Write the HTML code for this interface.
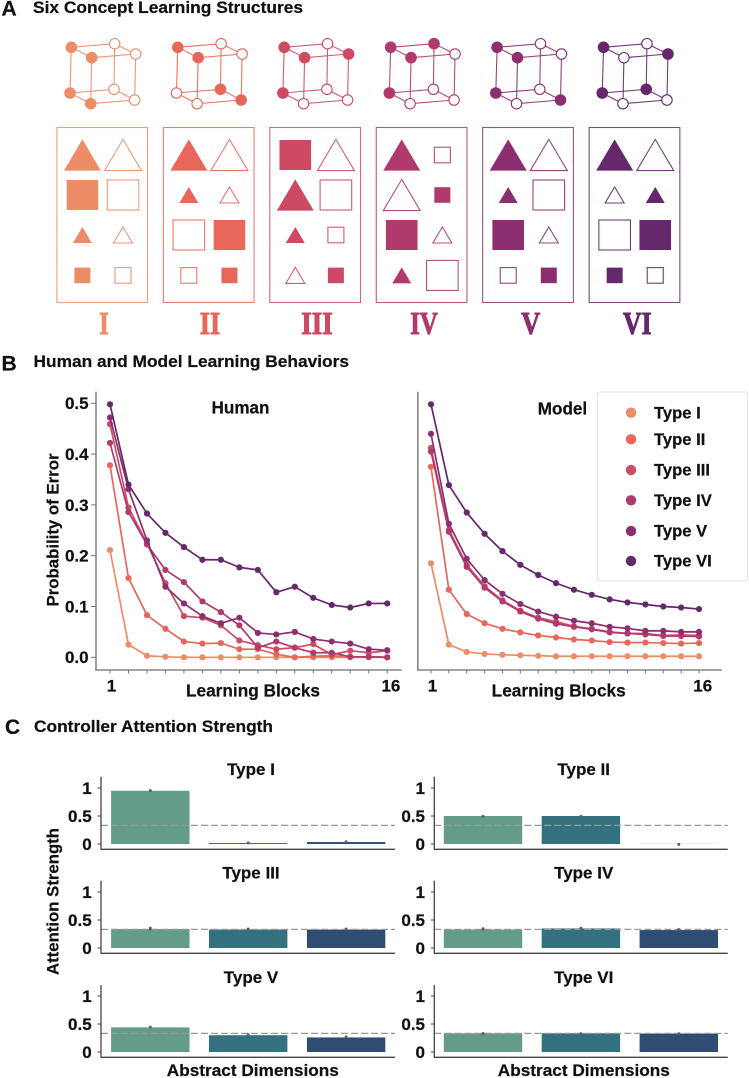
<!DOCTYPE html>
<html lang="en">
<head>
<meta charset="utf-8">
<title>Six Concept Learning Structures</title>
<style>
html,body{margin:0;padding:0;background:#fff;width:749px;height:1078px;overflow:hidden}
svg{display:block}
text{font-family:"Liberation Sans",sans-serif;font-weight:700;fill:#111;stroke:#111;stroke-width:.22}
</style>
</head>
<body>
<svg id="fig" xmlns="http://www.w3.org/2000/svg" width="749" height="1078" viewBox="0 0 749 1078">
  <text x="1.5" y="15.5" font-size="21">A</text>
  <text x="33" y="13" font-size="16.4" textLength="270" lengthAdjust="spacingAndGlyphs">Six Concept Learning Structures</text>
  <text x="1.5" y="370.5" font-size="21">B</text>
  <text x="33.5" y="367" font-size="16.4" textLength="315.5" lengthAdjust="spacingAndGlyphs">Human and Model Learning Behaviors</text>
  <text x="5" y="734" font-size="21">C</text>
  <text x="34" y="732" font-size="16.4" textLength="239" lengthAdjust="spacingAndGlyphs">Controller Attention Strength</text>

  <g id="panelA"></g>

  <g id="human"></g>
  <text x="240.5" y="413.3" font-size="17.1" text-anchor="middle">Human</text>
  <text x="253" y="696.7" font-size="17.2" text-anchor="middle" textLength="134" lengthAdjust="spacingAndGlyphs">Learning Blocks</text>
  <text transform="translate(58.3,530) rotate(-90)" font-size="17" text-anchor="middle" textLength="153" lengthAdjust="spacingAndGlyphs">Probability of Error</text>

  <g id="model"></g>
  <text x="562.5" y="414.3" font-size="17.1" text-anchor="middle">Model</text>
  <text x="558.7" y="696.7" font-size="17.2" text-anchor="middle" textLength="134" lengthAdjust="spacingAndGlyphs">Learning Blocks</text>

  <g id="legend"></g>

  <g id="bars"></g>
  <text transform="translate(58.3,901.5) rotate(-90)" font-size="17" text-anchor="middle" textLength="147" lengthAdjust="spacingAndGlyphs">Attention Strength</text>
  <text x="252.8" y="1076" font-size="17" text-anchor="middle" textLength="172" lengthAdjust="spacingAndGlyphs">Abstract Dimensions</text>
  <text x="583.8" y="1076" font-size="17" text-anchor="middle" textLength="172" lengthAdjust="spacingAndGlyphs">Abstract Dimensions</text>
</svg>

<script>
// ---------- chart data ----------
const typeNames = ['Type I', 'Type II', 'Type III', 'Type IV', 'Type V', 'Type VI'];
const errorTicks = [0, 0.1, 0.2, 0.3, 0.4, 0.5];
const blocks = [1, 2, 3, 4, 5, 6, 7, 8, 9, 10, 11, 12, 13, 14, 15, 16];
const blockLabels = ['1', '16'];

const humanTypeI = [0.211, 0.025, 0.003, 0.001, 0, 0, 0, 0, 0, 0, 0, 0, 0, 0, 0, 0];
const humanTypeII = [0.378, 0.156, 0.083, 0.056, 0.031, 0.027, 0.028, 0.016, 0.016, 0.006, 0, 0.002, 0.003, 0.001, 0.001, 0];
const humanTypeIII = [0.459, 0.295, 0.224, 0.146, 0.081, 0.078, 0.063, 0.033, 0.024, 0.016, 0.019, 0.026, 0.005, 0.013, 0.009, 0.013];
const humanTypeIV = [0.422, 0.286, 0.222, 0.172, 0.148, 0.11, 0.089, 0.063, 0.019, 0.031, 0.019, 0.009, 0.009, 0.001, 0.001, 0];
const humanTypeV = [0.472, 0.331, 0.23, 0.139, 0.106, 0.081, 0.067, 0.078, 0.048, 0.045, 0.05, 0.036, 0.031, 0.027, 0.016, 0.014];
const humanTypeVI = [0.498, 0.34, 0.283, 0.245, 0.217, 0.192, 0.192, 0.177, 0.172, 0.128, 0.139, 0.117, 0.103, 0.098, 0.106, 0.106];

const modelTypeI = [0.185, 0.025, 0.0105, 0.0066, 0.005, 0.004, 0.003, 0.002, 0.002, 0.002, 0.002, 0.002, 0.002, 0.002, 0.002, 0.002];
const modelTypeII = [0.375, 0.133, 0.085, 0.067, 0.056, 0.049, 0.043, 0.039, 0.035, 0.033, 0.03, 0.029, 0.029, 0.028, 0.027, 0.028];
const modelTypeIII = [0.412, 0.251, 0.182, 0.14, 0.112, 0.092, 0.078, 0.07, 0.061, 0.056, 0.05, 0.047, 0.047, 0.043, 0.044, 0.043];
const modelTypeIV = [0.405, 0.247, 0.178, 0.137, 0.11, 0.09, 0.076, 0.066, 0.06, 0.055, 0.049, 0.047, 0.045, 0.042, 0.042, 0.041];
const modelTypeV = [0.44, 0.263, 0.194, 0.152, 0.125, 0.105, 0.09, 0.08, 0.072, 0.067, 0.06, 0.057, 0.052, 0.052, 0.05, 0.05];
const modelTypeVI = [0.498, 0.339, 0.285, 0.243, 0.209, 0.182, 0.162, 0.146, 0.133, 0.123, 0.114, 0.108, 0.104, 0.1, 0.098, 0.095];

const attentionTicks = [0, 0.5, 1];
const attentionTickLabels = ['0', '0.5', '1'];
const chanceLevel = 0.333;
const attentionTypeI = [0.95, 0.015, 0.035];
const attentionTypeII = [0.5, 0.5, 0];
const attentionTypeIII = [0.34, 0.33, 0.33];
const attentionTypeIV = [0.33, 0.35, 0.32];
const attentionTypeV = [0.44, 0.3, 0.26];
const attentionTypeVI = [0.335, 0.335, 0.33];
const attentionErrorsI = [0.02, 0.02, 0.02];
const attentionErrorsII = [0.01, 0.01, 0.01];
const attentionErrorsIII = [0.03, 0.025, 0.025];
const attentionErrorsIV = [0.03, 0.02, 0.025];
const attentionErrorsV = [0.02, 0.025, 0.025];
const attentionErrorsVI = [0.01, 0.008, 0.012];

// ---------- concept diagram patterns ----------
const romanNumerals = ['I', 'II', 'III', 'IV', 'V', 'VI'];
const cubePatterns = ['11001100', '11000011', '11011000', '11101000', '11001001', '10011010'];
const stimulusPatterns = [
  ['LTf', 'LTo', 'LSf', 'LSo', 'STf', 'STo', 'SSf', 'SSo'],
  ['LTf', 'LTo', 'STf', 'STo', 'LSo', 'LSf', 'SSo', 'SSf'],
  ['LSf', 'LTo', 'LTf', 'LSo', 'STf', 'SSo', 'STo', 'SSf'],
  ['LTf', 'SSo', 'LTo', 'SSf', 'LSf', 'STo', 'STf', 'LSo'],
  ['LTf', 'LTo', 'STf', 'LSo', 'LSf', 'STo', 'SSo', 'SSf'],
  ['LTf', 'LTo', 'STo', 'STf', 'LSo', 'LSf', 'SSf', 'SSo']
];

// ---------- styling ----------
const typeColors = ['#EC8D68', '#E8675A', '#CE4A63', '#B13A6C', '#8B2F70', '#64286B'];
const barColors = ['#639C87', '#337080', '#2F4D73'];
const SVGNS = 'http://www.w3.org/2000/svg';

function mk(parent, tag, attrs) {
  const n = document.createElementNS(SVGNS, tag);
  for (const k in attrs) n.setAttribute(k, attrs[k]);
  parent.appendChild(n);
  return n;
}

// ---------- panel A ----------
(function () {
  const root = document.getElementById('panelA');
  const cubeNodes = [[71.3, 47.3], [91.7, 57.7], [114.7, 43.7], [135.7, 54], [70, 93], [90.7, 103.7], [114, 89.3], [134.7, 100]];
  const cubeEdges = [[0, 2], [0, 1], [1, 3], [2, 3], [0, 4], [1, 5], [2, 6], [3, 7], [4, 5], [4, 6], [5, 7], [6, 7]];
  const step = 106.45;
  const rowCenters = [155, 195, 235, 275.4];
  const colCenters = [82.4, 123];

  romanNumerals.forEach(function (label, t) {
    const dx = t * step;
    const color = typeColors[t];
    const group = mk(root, 'g', {});
    
    

    const cube = mk(group, 'g', { transform: 'translate(' + dx + ',0)' });
    
    
    cubeEdges.forEach(function (e) {
      const line = mk(cube, 'line', { x1: cubeNodes[e[0]][0], y1: cubeNodes[e[0]][1], x2: cubeNodes[e[1]][0], y2: cubeNodes[e[1]][1], stroke: color, 'stroke-width': 1.1, 'stroke-opacity': 0.9 });
      
      
    });
    cubeNodes.forEach(function (p, i) {
      const filled = cubePatterns[t][i] === '1';
      const node = mk(cube, 'circle', { cx: p[0], cy: p[1], r: filled ? 5.8 : 5.2, fill: filled ? color : '#fff', stroke: color, 'stroke-width': filled ? 0 : 1.1 });
      
      
    });

    const box = mk(group, 'rect', { x: 56.9 + dx, y: 127.5, width: 90.7, height: 175, fill: '#fff', stroke: color, 'stroke-width': 1.1, 'stroke-opacity': 0.85 });
    
    

    stimulusPatterns[t].forEach(function (code, i) {
      const cx = colCenters[i % 2] + dx;
      const cy = rowCenters[Math.floor(i / 2)];
      const large = code[0] === 'L';
      const filled = code[2] === 'f';
      const attrs = { fill: filled ? color : '#fff', stroke: color, 'stroke-width': filled ? 0 : 1.1, 'stroke-opacity': 0.9 };
      let shape;
      if (code[1] === 'T') {
        const hw = large ? 18.5 : 9.5;
        const hh = large ? 15.6 : 8;
        attrs.points = cx + ',' + (cy - hh) + ' ' + (cx + hw) + ',' + (cy + hh) + ' ' + (cx - hw) + ',' + (cy + hh);
        shape = mk(group, 'polygon', attrs);
        
      } else {
        const hw = large ? 15.8 : 8;
        const hh = large ? 15 : 7.8;
        attrs.x = cx - hw; attrs.y = cy - hh; attrs.width = 2 * hw; attrs.height = 2 * hh;
        shape = mk(group, 'rect', attrs);
        
      }
      
    });

    const widths = [9.5, 20.5, 31.5, 27.5, 19, 28.5];
    const centers = [104, 210, 317, 424, 530.7, 637.3];
    const num = mk(group, 'text', { x: centers[t], y: 334, 'text-anchor': 'middle', 'font-size': 32, textLength: widths[t], lengthAdjust: 'spacingAndGlyphs', style: 'font-family:"Liberation Serif",serif;font-weight:700;fill:' + color + ';stroke:' + color + ';stroke-width:1' });
    num.textContent = label;
    
    
  });
})();

// ---------- panel B ----------
function drawLines(rootId, prefix, seriesList, geom) {
  const root = document.getElementById(rootId);
  const xScale = function (b) { return geom.x1 + (b - 1) * (geom.x16 - geom.x1) / 15; };
  const yScale = function (v) { return 657.3 - v * 508; };

  const yAxis = mk(root, 'line', { x1: geom.axisX, x2: geom.axisX, y1: 391.7, y2: 670.5, stroke: '#858585', 'stroke-width': 1.6 });
  
  
  const xAxis = mk(root, 'line', { x1: geom.axisX - 0.8, x2: geom.axisEnd, y1: 670, y2: 670, stroke: '#858585', 'stroke-width': 1.6 });
  
  

  blocks.forEach(function (b) {
    const tick = mk(root, 'line', { x1: xScale(b), x2: xScale(b), y1: 670, y2: 673.5, stroke: '#777', 'stroke-width': 1 });
    
    
  });
  const labelFirst = mk(root, 'text', { x: xScale(blocks[0]) + 1.5, y: 691.7, 'font-size': 17, 'text-anchor': 'middle' });
  labelFirst.textContent = blockLabels[0];
  
  
  const labelLast = mk(root, 'text', { x: xScale(blocks[15]) + 3.7, y: 691.7, 'font-size': 17, 'text-anchor': 'middle' });
  labelLast.textContent = blockLabels[1];
  
  

  if (geom.showY) {
    errorTicks.forEach(function (v) {
      const tick = mk(root, 'line', { x1: geom.axisX - 5, x2: geom.axisX, y1: yScale(v), y2: yScale(v), stroke: '#777', 'stroke-width': 1 });
      
      
      const lab = mk(root, 'text', { x: 88.6, y: yScale(v) + 5.9, 'font-size': 17, 'text-anchor': 'end' });
      lab.textContent = v.toFixed(1);
      
      
    });
  }

  seriesList.forEach(function (values, s) {
    const color = typeColors[s];
    const g = mk(root, 'g', {});
    
    
    const pts = values.map(function (v, i) { return xScale(blocks[i]) + ',' + yScale(v); }).join(' ');
    const line = mk(g, 'polyline', { points: pts, fill: 'none', stroke: color, 'stroke-width': 1.7, 'stroke-linejoin': 'round' });
    
    
    values.forEach(function (v, i) {
      const dot = mk(g, 'circle', { cx: xScale(blocks[i]), cy: yScale(v), r: 3.1, fill: color });
      
      
    });
  });
}

drawLines('human', 'human', [humanTypeI, humanTypeII, humanTypeIII, humanTypeIV, humanTypeV, humanTypeVI],
  { x1: 110, x16: 387.2, axisX: 96, axisEnd: 401.7, showY: true });
drawLines('model', 'model', [modelTypeI, modelTypeII, modelTypeIII, modelTypeIV, modelTypeV, modelTypeVI],
  { x1: 431, x16: 699, axisX: 417.8, axisEnd: 722, showY: false });

// ---------- legend ----------
(function () {
  const root = document.getElementById('legend');
  const frame = mk(root, 'rect', { x: 597.5, y: 392, width: 150, height: 189, rx: 3, fill: '#fff', stroke: '#e4e4e4', 'stroke-width': 1 });
  
  
  const rowY = [412.7, 439.3, 470, 500.3, 531, 561];
  typeNames.forEach(function (name, i) {
    const g = mk(root, 'g', {});
    
    
    const m = mk(g, 'circle', { cx: 631, cy: rowY[i], r: 5.2, fill: typeColors[i] });
    
    
    const t = mk(g, 'text', { x: 654, y: rowY[i] + 5.6, 'font-size': 16.6 });
    t.textContent = name;
    
    
  });
})();

// ---------- panel C ----------
function drawBars(typeIndex, values, errors, col, row) {
  const root = document.getElementById('bars');
  const rowTop = [776.7, 880.7, 985][row];
  const rowBottom = [849.3, 953.3, 1057.3][row];
  const zero = [844, 948, 1052][row];
  const axisX = [101, 434.3][col];
  const axisEnd = [395, 727.7][col];
  const firstCenter = [150.3, 483][col];
  const yScale = function (v) { return zero - v * 56; };
  const xScale = function (i) { return firstCenter + i * 97.9; };

  const g = mk(root, 'g', {});
  
  

  values.forEach(function (v, i) {
    const h = Math.max(v * 56, 1);
    const bar = mk(g, 'rect', { x: xScale(i) - 39.2, y: zero - h, width: 78.4, height: h, fill: v < 0.005 ? '#eeeeee' : barColors[i] });
    
    
  });

  const dash = mk(g, 'line', { x1: axisX, x2: axisEnd, y1: yScale(chanceLevel), y2: yScale(chanceLevel), stroke: '#999', 'stroke-width': 1.3, 'stroke-dasharray': '7 3' });
  
  

  values.forEach(function (v, i) {
    const err = mk(g, 'rect', { x: xScale(i) - 1.4, y: yScale(v + errors[i]) - 0.5, width: 2.8, height: Math.max(errors[i] * 112, 2.8), rx: 0.8, fill: '#5e5e5e' });
    
    
  });

  const yAxis = mk(g, 'line', { x1: axisX, x2: axisX, y1: rowTop, y2: rowBottom + 0.5, stroke: '#444', 'stroke-width': 1.3 });
  
  
  const xAxis = mk(g, 'line', { x1: axisX, x2: axisEnd, y1: rowBottom, y2: rowBottom, stroke: '#444', 'stroke-width': 1.3 });
  
  

  attentionTicks.forEach(function (v, i) {
    const tick = mk(g, 'line', { x1: axisX - 3.5, x2: axisX, y1: yScale(v), y2: yScale(v), stroke: '#444', 'stroke-width': 1 });
    
    
    const lab = mk(g, 'text', { x: axisX - 9.3, y: yScale(v) + 5.8, 'font-size': 17, 'text-anchor': 'end' });
    lab.textContent = attentionTickLabels[i];
    
    
  });

  const title = mk(g, 'text', { x: [251, 583.7][col], y: [775, 878.3, 983][row], 'font-size': 17, 'text-anchor': 'middle' });
  title.textContent = typeNames[typeIndex];
  
  
}

drawBars(0, attentionTypeI, attentionErrorsI, 0, 0);
drawBars(1, attentionTypeII, attentionErrorsII, 1, 0);
drawBars(2, attentionTypeIII, attentionErrorsIII, 0, 1);
drawBars(3, attentionTypeIV, attentionErrorsIV, 1, 1);
drawBars(4, attentionTypeV, attentionErrorsV, 0, 2);
drawBars(5, attentionTypeVI, attentionErrorsVI, 1, 2);
</script>
</body>
</html>
